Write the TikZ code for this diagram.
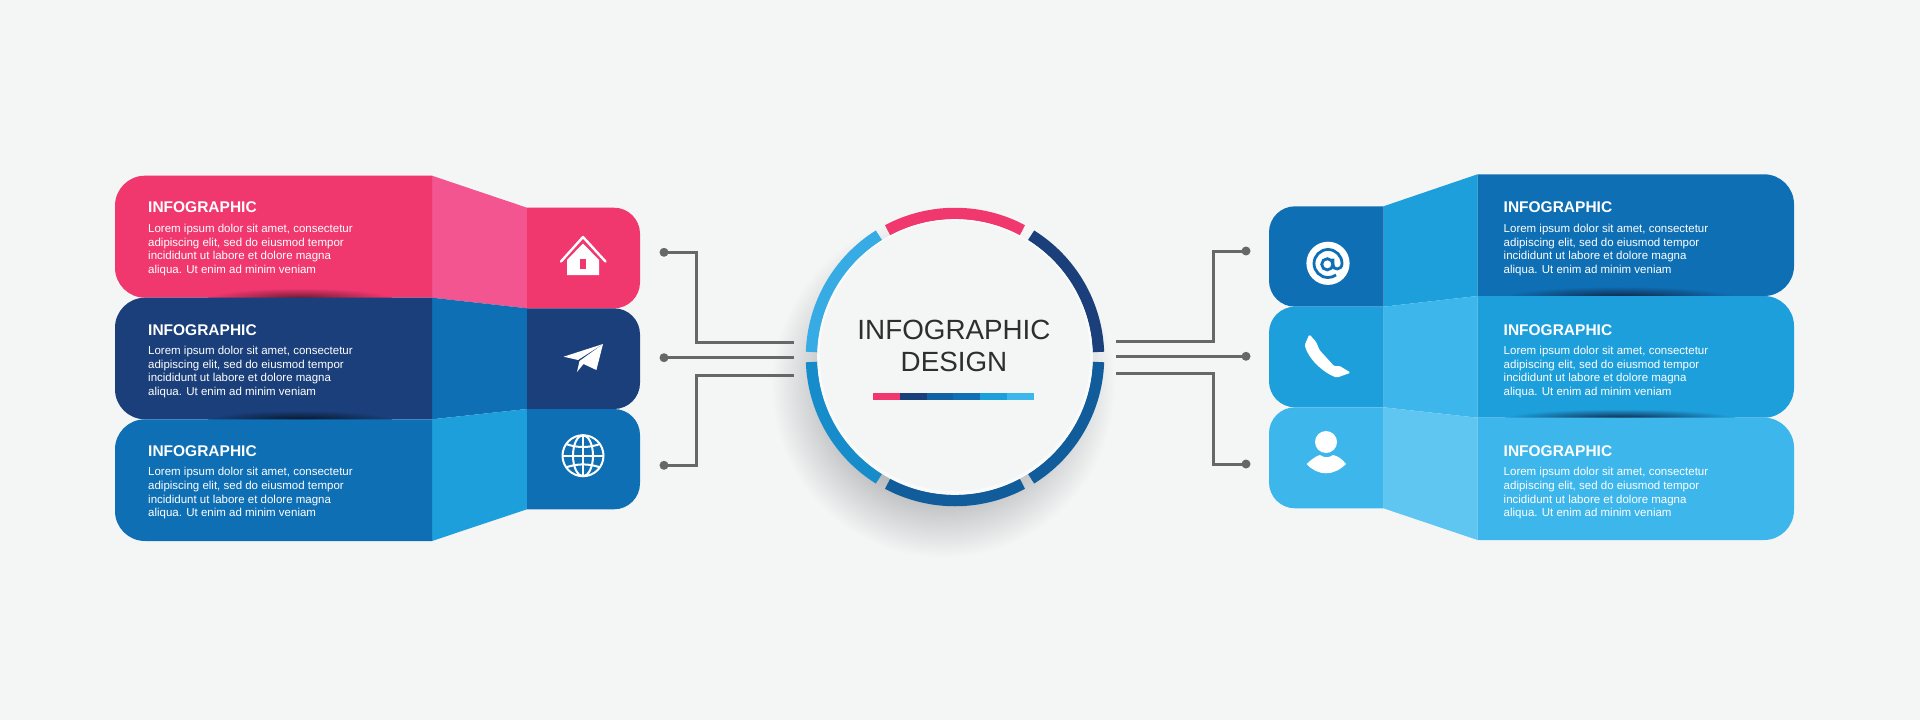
\documentclass[tikz,border=0pt]{standalone}
\usepackage{fontspec}
\setmainfont{Liberation Sans}
\definecolor{paper}{HTML}{F4F6F6}
\definecolor{rose}{HTML}{F0386F}
\definecolor{rosepale}{HTML}{F2558F}
\definecolor{navy}{HTML}{1A3F7A}
\definecolor{deep}{HTML}{0E6FB4}
\definecolor{mid}{HTML}{1D9FDB}
\definecolor{sky}{HTML}{3DB6EC}
\definecolor{skypale}{HTML}{5FC6F2}
\definecolor{wire}{HTML}{666868}
\definecolor{haze}{HTML}{B4B6B8}
\pgfdeclareradialshading{discshade}{\pgfpoint{0bp}{0bp}}{color(0bp)=(haze);color(15bp)=(haze);color(25bp)=(paper);color(50bp)=(paper)}
\newcommand{\loremtext}{Lorem ipsum dolor sit amet, consectetur\\adipiscing elit, sed do eiusmod tempor\\incididunt ut labore et dolore magna\\aliqua. Ut enim ad minim veniam}
\tikzset{
  heading/.style={anchor=west, inner sep=0pt, text=white, font=\fontsize{15.5}{15.5}\selectfont\bfseries},
  lorem/.style={anchor=north west, inner sep=0pt, align=left, text=white, font=\fontsize{11.5}{13.7}\selectfont},
  ringpart/.style={line width=11.5pt, draw=#1},
  lead/.style={draw=wire, line width=3pt},
  pindot/.style={circle, fill=wire, inner sep=0pt, minimum size=9pt},
  centertext/.style={inner sep=0pt, text=black!82, font=\fontsize{27.8}{27.8}\selectfont},
  barpart/.style={fill=#1},
  iconline/.style={draw=white, line width=2pt}
}

\begin{document}
\begin{tikzpicture}[x=1pt, y=-1pt]
  \useasboundingbox[fill=paper] (0,0) rectangle (1920,720);

  % left cards
  \fill[rosepale] (432,175.7) -- (527,207.7) -- (527,308.3) -- (432,297.7) -- cycle;
  \fill[deep] (432,297.7) -- (527,308.3) -- (527,409) -- (432,419.3) -- cycle;
  \fill[mid] (432,419.3) -- (527,409) -- (527,509.3) -- (432,541) -- cycle;
  \fill[rose] (432,175.7) [rounded corners=30pt] -- (115,175.7) -- (115,297.7) [sharp corners] -- (432,297.7) -- cycle;
  \shade[inner color=rose!45!black, outer color=rose] (300,298) ellipse (92 and 10);
  \fill[navy] (432,297.7) [rounded corners=30pt] -- (115,297.7) -- (115,419.3) [sharp corners] -- (432,419.3) -- cycle;
  \shade[inner color=navy!35!black, outer color=navy] (300,419.5) ellipse (92 and 9);
  \fill[deep] (432,419.3) [rounded corners=30pt] -- (115,419.3) -- (115,541) [sharp corners] -- (432,541) -- cycle;
  \fill[rose] (527,207.7) [rounded corners=26pt] -- (640,207.7) -- (640,308.3) [sharp corners] -- (527,308.3) -- cycle;
  \fill[navy] (527,308.3) [rounded corners=26pt] -- (640,308.3) -- (640,409) [sharp corners] -- (527,409) -- cycle;
  \fill[deep] (527,409) [rounded corners=26pt] -- (640,409) -- (640,509.3) [sharp corners] -- (527,509.3) -- cycle;

  % right cards
  \fill[mid] (1477.5,174.3) -- (1383.5,206.3) -- (1383.5,306.7) -- (1477.5,296) -- cycle;
  \fill[sky] (1477.5,296) -- (1383.5,306.7) -- (1383.5,407.3) -- (1477.5,417.7) -- cycle;
  \fill[skypale] (1477.5,417.7) -- (1383.5,407.3) -- (1383.5,508.3) -- (1477.5,540) -- cycle;
  \fill[deep] (1477.5,174.3) [rounded corners=30pt] -- (1794,174.3) -- (1794,296) [sharp corners] -- (1477.5,296) -- cycle;
  \shade[inner color=navy!60!black, outer color=deep] (1620,296.5) ellipse (115 and 10);
  \fill[mid] (1477.5,296) [rounded corners=30pt] -- (1794,296) -- (1794,417.7) [sharp corners] -- (1477.5,417.7) -- cycle;
  \shade[inner color=navy!60!black, outer color=mid] (1620,418) ellipse (115 and 9);
  \fill[sky] (1477.5,417.7) [rounded corners=30pt] -- (1794,417.7) -- (1794,540) [sharp corners] -- (1477.5,540) -- cycle;
  \fill[deep] (1383.5,206.3) [rounded corners=26pt] -- (1269,206.3) -- (1269,306.7) [sharp corners] -- (1383.5,306.7) -- cycle;
  \fill[mid] (1383.5,306.7) [rounded corners=26pt] -- (1269,306.7) -- (1269,407.3) [sharp corners] -- (1383.5,407.3) -- cycle;
  \fill[sky] (1383.5,407.3) [rounded corners=26pt] -- (1269,407.3) -- (1269,508.3) [sharp corners] -- (1383.5,508.3) -- cycle;

  % card texts
  \node[heading] (headl1) at (148,206.7) {INFOGRAPHIC};
  \node[heading] (headl2) at (148,329.7) {INFOGRAPHIC};
  \node[heading] (headl3) at (148,451.3) {INFOGRAPHIC};
  \node[lorem] (textl1) at (148,224) {\loremtext};
  \node[lorem] (textl2) at (148,346) {\loremtext};
  \node[lorem] (textl3) at (148,467.2) {\loremtext};
  \node[heading] (headr1) at (1503.5,206.7) {INFOGRAPHIC};
  \node[heading] (headr2) at (1503.5,329.7) {INFOGRAPHIC};
  \node[heading] (headr3) at (1503.5,451.3) {INFOGRAPHIC};
  \node[lorem] (textr1) at (1503.5,224) {\loremtext};
  \node[lorem] (textr2) at (1503.5,346) {\loremtext};
  \node[lorem] (textr3) at (1503.5,467.2) {\loremtext};

  % center disc
  \shade[shading=discshade] (943,386) circle (172);
  \draw[ringpart=rose] (955,357) ++(-118:143.5) arc (-118:-62:143.5);
  \draw[ringpart=navy] (955,357) ++(-58:143.5) arc (-58:-2:143.5);
  \draw[ringpart=black!5!deep!70!navy] (955,357) ++(2:143.5) arc (2:58:143.5);
  \draw[ringpart=black!5!deep!70!navy] (955,357) ++(62:143.5) arc (62:118:143.5);
  \draw[ringpart=mid!60!deep] (955,357) ++(122:143.5) arc (122:178:143.5);
  \draw[ringpart=sky!85!deep] (955,357) ++(182:143.5) arc (182:238:143.5);
  \fill[white!50!paper] (955,357) circle (137.8);
  \fill[paper] (955,356) circle (135);
  \node[centertext] (title) at (954,330) {INFOGRAPHIC};
  \node[centertext] (titleb) at (954,361.5) {DESIGN};
  \fill[barpart=rose] (873,393) rectangle (899.8,400);
  \fill[barpart=navy] (899.8,393) rectangle (926.6,400);
  \fill[barpart=deep!70!navy] (926.6,393) rectangle (953.4,400);
  \fill[barpart=deep] (953.4,393) rectangle (980.2,400);
  \fill[barpart=mid] (980.2,393) rectangle (1007,400);
  \fill[barpart=sky] (1007,393) rectangle (1034,400);

  % leads
  \node[pindot] (dl1) at (664,252.3) {};
  \node[pindot] (dl2) at (664,357.7) {};
  \node[pindot] (dl3) at (664,465.3) {};
  \node[pindot] (dr1) at (1246,251) {};
  \node[pindot] (dr2) at (1246,356.3) {};
  \node[pindot] (dr3) at (1246,464) {};
  \coordinate (el1) at (794,342.7);
  \coordinate (el2) at (794,357.7);
  \coordinate (el3) at (794,375);
  \coordinate (er1) at (1116,341);
  \coordinate (er2) at (1116,356.3);
  \coordinate (er3) at (1116,373.7);
  \coordinate (bl1) at (696,252.3);
  \coordinate (bl3) at (696,465.3);
  \coordinate (br1) at (1213.5,251);
  \coordinate (br3) at (1213.5,464);
  \draw[lead] (dl1.center) -- (bl1) |- (el1);
  \draw[lead] (dl2.center) -- (el2);
  \draw[lead] (dl3.center) -- (bl3) |- (el3);
  \draw[lead] (dr1.center) -- (br1) |- (er1);
  \draw[lead] (dr2.center) -- (er2);
  \draw[lead] (dr3.center) -- (br3) |- (er3);

  % house
  \draw[iconline, line width=2.4pt, line cap=round, line join=round] (561,261.5) -- (583,237) -- (605.5,261.5);
  \fill[white] (583,243.5) -- (599,260) -- (599,275) -- (567,275) -- (567,260) -- cycle;
  \fill[rose] (580.4,259) rectangle (586.4,269);
  % plane
  \fill[white] (603,344) -- (563.6,356.7) -- (578,360) -- cycle;
  \fill[white] (603,344) -- (596.4,370) -- (583.5,364) -- (577,372) -- (579.5,361) -- cycle;
  % globe
  \draw[iconline] (583,455.7) circle (20.5);
  \draw[iconline] (583,455.7) ellipse (10 and 20.5);
  \draw[iconline] (583,435.2) -- (583,476.2);
  \draw[iconline] (562.5,455.7) -- (603.5,455.7);
  \draw[iconline] (566,444) .. controls (577,448) and (589,448) .. (600,444);
  \draw[iconline] (566,467.4) .. controls (577,463.4) and (589,463.4) .. (600,467.4);
  % at sign
  \fill[white] (1328,263.3) circle (21.6);
  \draw[deep, line width=2.8pt] (1327.3,264.3) circle (5.6);
  \draw[deep, line width=2.8pt] (1333,258.5) -- (1333,265) .. controls (1333,270.5) and (1342,270.5) .. (1342,263.5) arc (0:-305:14);
  % phone
  \fill[white, rounded corners=1.5pt] (1309.3,334.3) -- (1304.7,345) .. controls (1308,358) and (1322,372) .. (1336.7,377.7) -- (1350.7,372.7) -- (1339.3,365.7) -- (1334.5,366.5) -- (1319.5,350) -- (1316,341.7) -- cycle;
  % person
  \fill[white] (1326,442) circle (11);
  \fill[white] (1306.6,464) .. controls (1312,459) and (1316,456) .. (1320,455) .. controls (1324,458) and (1329,458) .. (1333,455) .. controls (1338,456) and (1342,459) .. (1346,464) .. controls (1340,470) and (1333,473.3) .. (1326,473.3) .. controls (1319,473.3) and (1312,470) .. (1306.6,464) -- cycle;
\end{tikzpicture}
\end{document}
